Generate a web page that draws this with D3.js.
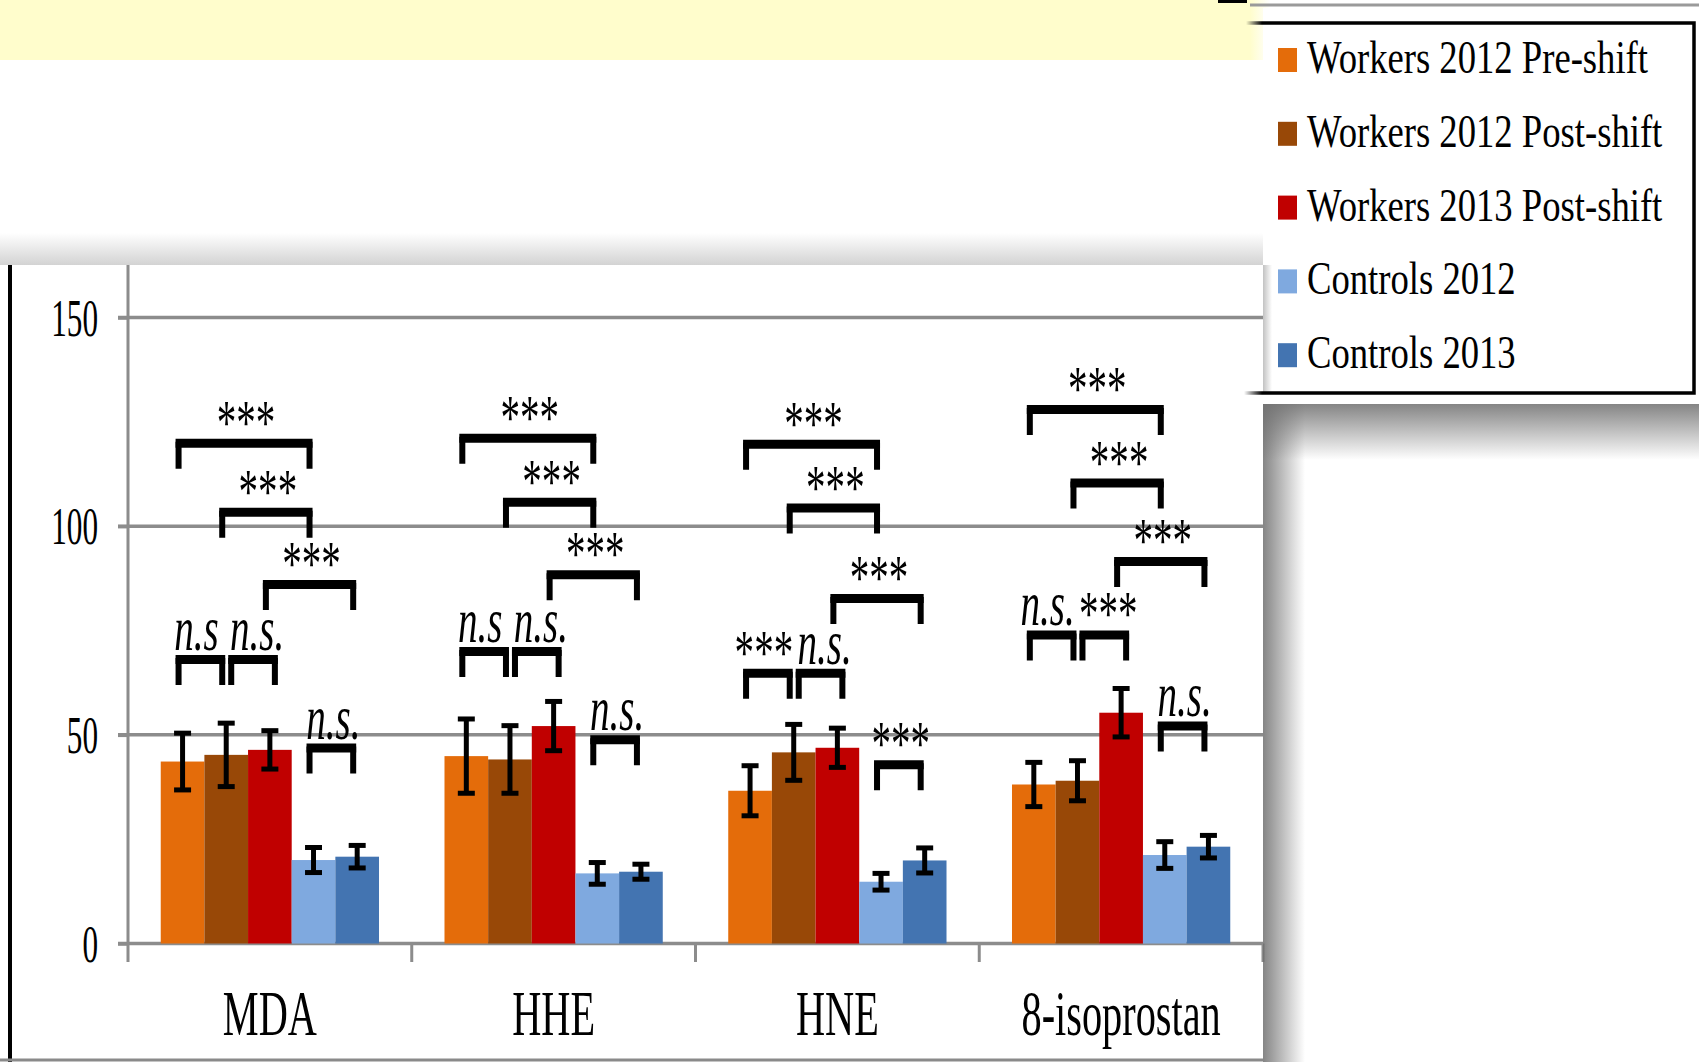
<!DOCTYPE html>
<html>
<head>
<meta charset="utf-8">
<script src="https://cdn.jsdelivr.net/npm/d3@7"></script>
<style>
  body { margin: 0; background: #fff; }
  svg { display: block; }
  text { font-family: "Liberation Serif", "Times New Roman", "DejaVu Serif", serif; fill: #000; }
</style>
</head>
<body>
<div id="chart"></div>
<script>
const categories = ["MDA", "HHE", "HNE", "8-isoprostan"]
const groups = ["Workers 2012 Pre-shift", "Workers 2012 Post-shift", "Workers 2013 Post-shift", "Controls 2012", "Controls 2013"]
const colors = ["#E46C0A", "#984807", "#C00000", "#7FA9DF", "#4374B1"]

const workers2012Pre  = [43.6, 44.9, 36.6, 38.1]
const workers2012Post = [45.2, 44.1, 45.8, 39.0]
const workers2013Post = [46.4, 52.1, 46.9, 55.3]
const controls2012    = [20.0, 16.8, 14.8, 21.2]
const controls2013    = [20.8, 17.2, 19.9, 23.2]

const workers2012PreErr  = [6.8, 8.9, 6.0, 5.3]
const workers2012PostErr = [7.6, 8.1, 6.7, 4.8]
const workers2013PostErr = [4.6, 5.9, 4.7, 5.8]
const controls2012Err    = [3.0, 2.6, 2.0, 3.2]
const controls2013Err    = [2.7, 1.8, 3.0, 2.7]

const yTicks = [0, 50, 100, 150]

// significance brackets: category, first bar, second bar, bracket level, label
const brackets = [
  ["MDA", 0, 3, 120.2, "***"], ["MDA", 1, 3, 103.7, "***"], ["MDA", 2, 4, 86.4, "***"],
  ["MDA", 0, 1, 68.4, "n.s"], ["MDA", 1, 2, 68.4, "n.s."], ["MDA", 3, 4, 47.2, "n.s."],
  ["HHE", 0, 3, 121.4, "***"], ["HHE", 1, 3, 106.1, "***"], ["HHE", 2, 4, 88.7, "***"],
  ["HHE", 0, 1, 70.3, "n.s"], ["HHE", 1, 2, 70.3, "n.s."], ["HHE", 3, 4, 49.2, "n.s."],
  ["HNE", 0, 3, 120.0, "***"], ["HNE", 1, 3, 104.7, "***"], ["HNE", 2, 4, 83.0, "***"],
  ["HNE", 0, 1, 65.1, "***"], ["HNE", 1, 2, 65.1, "n.s."], ["HNE", 3, 4, 43.2, "***"],
  ["8-isoprostan", 0, 3, 128.3, "***"], ["8-isoprostan", 1, 3, 110.7, "***"], ["8-isoprostan", 2, 4, 91.9, "***"],
  ["8-isoprostan", 0, 1, 74.3, "n.s."], ["8-isoprostan", 1, 2, 74.3, "***"], ["8-isoprostan", 3, 4, 52.5, "n.s."]
]

const means = [workers2012Pre, workers2012Post, workers2013Post, controls2012, controls2013]
const errs = [workers2012PreErr, workers2012PostErr, workers2013PostErr, controls2012Err, controls2013Err]

const width = 1699
const height = 1062
const axisX = 128
const plotRight = 1263

const svg = d3.select("#chart")
  .append("svg")
  .attr("width", width)
  .attr("height", height)
  .attr("font-family", "Liberation Serif, Times New Roman, serif")

const defs = svg.append("defs")
function grad(id, horizontal, color, o1, o2) {
  const g = defs.append("linearGradient").attr("id", id)
    .attr("x1", 0).attr("y1", 0)
    .attr("x2", horizontal ? 1 : 0).attr("y2", horizontal ? 0 : 1)
  g.append("stop").attr("offset", 0).attr("stop-color", color).attr("stop-opacity", o1)
  g.append("stop").attr("offset", 1).attr("stop-color", color).attr("stop-opacity", o2)
}
grad("topShade", false, "#c8c8c8", 0, 0.8)
grad("downShade", false, "#6f6f6f", 0.85, 0)
grad("sideShade", true, "#6f6f6f", 0.85, 0)
grad("yellowFade", true, "#FFFDCC", 1, 0)
grad("lineFade", true, "#000", 0, 1)

// text squeezed sideways like the original
function sText(g, x, y, str, size, sx, anchor, italic) {
  return g.append("text")
    .attr("transform", `translate(${x},${y}) scale(${sx},1)`)
    .attr("text-anchor", anchor)
    .style("font-size", size + "px")
    .style("font-style", italic ? "italic" : "normal")
    .text(str)
}

// page background pieces
svg.append("rect").attr("x", 0).attr("y", 0).attr("width", 1250).attr("height", 60).attr("fill", "#FFFDCC")
svg.append("rect").attr("x", 1250).attr("y", 0).attr("width", 20).attr("height", 60).attr("fill", "url(#yellowFade)")
svg.append("rect").attr("x", 1218).attr("y", 0).attr("width", 29).attr("height", 3).attr("fill", "#000")
svg.append("rect").attr("x", 0).attr("y", 233).attr("width", plotRight).attr("height", 32).attr("fill", "url(#topShade)")

// panel
svg.append("rect").attr("x", 0).attr("y", 265).attr("width", plotRight).attr("height", height - 265).attr("fill", "#fff")
svg.append("line").attr("x1", 10).attr("x2", 10).attr("y1", 265).attr("y2", height)
  .attr("stroke", "#000").attr("stroke-width", 4)
svg.append("line").attr("x1", 0).attr("x2", plotRight).attr("y1", 1060).attr("y2", 1060)
  .attr("stroke", "#8a8a8a").attr("stroke-width", 3)

const x0 = d3.scaleBand()
  .domain(categories)
  .range([axisX, plotRight])

const x1 = d3.scaleBand()
  .domain(groups)
  .range([0, x0.bandwidth()])
  .paddingOuter(0.75)

const y = d3.scaleLinear()
  .domain([0, 150])
  .range([943.5, 317.5])

const color = d3.scaleOrdinal().domain(groups).range(colors)

// gridlines
svg.append("g")
  .selectAll("line")
  .data(yTicks)
  .join("line")
  .attr("x1", axisX - 10)
  .attr("x2", plotRight)
  .attr("y1", d => y(d))
  .attr("y2", d => y(d))
  .attr("stroke", "#8c8c8c")
  .attr("stroke-width", 3.5)

// y axis
const yAxis = svg.append("g")
  .attr("transform", `translate(${axisX},0)`)
  .call(d3.axisLeft(y).tickValues(yTicks).tickSize(10).tickFormat(d3.format("d")))
yAxis.attr("font-family", null).attr("font-size", null)
yAxis.select(".domain").remove()
yAxis.selectAll("line").attr("stroke", "#8c8c8c").attr("stroke-width", 3.5)
yAxis.selectAll("text")
  .attr("x", 0).attr("dy", null)
  .attr("transform", "translate(-30,17.5) scale(0.6,1)")
  .style("font-size", "52px")
  .attr("fill", "#000")

svg.append("line").attr("x1", axisX).attr("x2", axisX).attr("y1", 265).attr("y2", 962)
  .attr("stroke", "#8c8c8c").attr("stroke-width", 3)

// category separators on x axis
const bounds = categories.map(c => x0(c)).concat([x0.range()[1]])
svg.append("g")
  .selectAll("line")
  .data(bounds.slice(1))
  .join("line")
  .attr("x1", d => d).attr("x2", d => d)
  .attr("y1", y(0)).attr("y2", 962)
  .attr("stroke", "#8c8c8c")
  .attr("stroke-width", 3)

// bars
const rows = categories.map((c, i) => ({
  cat: c,
  vals: groups.map((g, k) => ({ group: g, v: means[k][i], e: errs[k][i] }))
}))

const cat = svg.append("g")
  .selectAll("g")
  .data(rows)
  .join("g")
  .attr("transform", d => `translate(${x0(d.cat)},0)`)

cat.selectAll("rect")
  .data(d => d.vals)
  .join("rect")
  .attr("x", d => x1(d.group))
  .attr("width", x1.bandwidth())
  .attr("y", d => y(d.v))
  .attr("height", d => y(0) - y(d.v))
  .attr("fill", d => color(d.group))

// error bars
const eb = cat.selectAll("g.err")
  .data(d => d.vals)
  .join("g")
  .attr("class", "err")
  .attr("transform", d => `translate(${x1(d.group) + x1.bandwidth() / 2},0)`)

eb.append("line")
  .attr("y1", d => y(d.v + d.e)).attr("y2", d => y(d.v - d.e))
  .attr("stroke", "#000").attr("stroke-width", 5)
eb.append("line")
  .attr("x1", -8.5).attr("x2", 8.5)
  .attr("y1", d => y(d.v + d.e)).attr("y2", d => y(d.v + d.e))
  .attr("stroke", "#000").attr("stroke-width", 5)
eb.append("line")
  .attr("x1", -8.5).attr("x2", 8.5)
  .attr("y1", d => y(d.v - d.e)).attr("y2", d => y(d.v - d.e))
  .attr("stroke", "#000").attr("stroke-width", 5)

// significance brackets
const barMid = (c, i) => x0(c) + x1(groups[i]) + x1.bandwidth() / 2
const sig = svg.append("g")
brackets.forEach(([c, a, b, level, label]) => {
  const nudge = (a === 1 && b === 2) ? 5 : -4
  const xa = barMid(c, a) + nudge
  const xb = barMid(c, b) + nudge
  const yt = y(level)
  sig.append("path")
    .attr("d", `M${xa},${yt + 27}V${yt}M${xb},${yt}V${yt + 27}`)
    .attr("stroke", "#000")
    .attr("stroke-width", 6)
  sig.append("line")
    .attr("x1", xa - 3).attr("x2", xb + 3)
    .attr("y1", yt + 1.5).attr("y2", yt + 1.5)
    .attr("stroke", "#000")
    .attr("stroke-width", 9)
  const isStar = label === "***"
  const shift = b - a === 1 && a < 2 ? (a === 0 ? -4 : 4) : 2
  sText(sig, (xa + xb) / 2 + shift, isStar ? yt + 2 : yt - 8, label, 63, 0.62, "middle", !isStar)
})

// category labels
categories.forEach(c => {
  sText(svg, x0(c) + x0.bandwidth() / 2, 1035, c, 64, 0.63, "middle", false)
})

// legend area
svg.append("rect").attr("x", plotRight).attr("y", 8).attr("width", width - plotRight).attr("height", 388).attr("fill", "#fff")
svg.append("rect").attr("x", plotRight).attr("y", 265).attr("width", 9).attr("height", 128).attr("fill", "url(#sideShade)").attr("opacity", 0.5)
svg.append("rect").attr("x", plotRight).attr("y", 404).attr("width", 42).attr("height", height - 404).attr("fill", "url(#sideShade)")
svg.append("rect").attr("x", plotRight).attr("y", 404).attr("width", width - plotRight).attr("height", 56).attr("fill", "url(#downShade)")

svg.append("line").attr("x1", 1250).attr("x2", width).attr("y1", 5).attr("y2", 5)
  .attr("stroke", "#9a9a9a").attr("stroke-width", 3)
svg.append("path")
  .attr("d", `M1262,23H1694V393H1262`)
  .attr("fill", "none")
  .attr("stroke", "#000")
  .attr("stroke-width", 3.5)
svg.append("rect").attr("x", 1246).attr("y", 21.25).attr("width", 16).attr("height", 3.5).attr("fill", "url(#lineFade)")
svg.append("rect").attr("x", 1244).attr("y", 391.25).attr("width", 18).attr("height", 3.5).attr("fill", "url(#lineFade)")

const legend = svg.append("g")
  .selectAll("g")
  .data(groups)
  .join("g")
  .attr("transform", (d, i) => `translate(1278,${73 + i * 73.8})`)

legend.append("rect")
  .attr("x", 0).attr("y", -25)
  .attr("width", 19).attr("height", 24)
  .attr("fill", d => color(d))

legend.each(function(d) {
  sText(d3.select(this), 29, 0, d, 47, 0.78, "start", false)
})
</script>
</body>
</html>
